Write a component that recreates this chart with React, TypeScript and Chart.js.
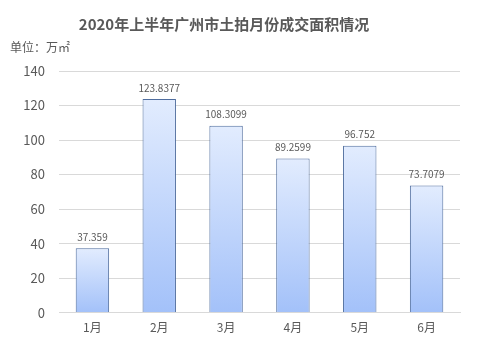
import React, { useEffect, useRef } from "react";
import { Chart, registerables } from "chart.js";

Chart.register(...registerables);

const titleText = "2020年上半年广州市土拍月份成交面积情况";
const unitText = "单位：万㎡";
const categories = ["1月", "2月", "3月", "4月", "5月", "6月"];
const values = [37.359, 123.8377, 108.3099, 89.2599, 96.752, 73.7079];
const valueLabels = ["37.359", "123.8377", "108.3099", "89.2599", "96.752", "73.7079"];

const FONT = "'Noto Sans CJK SC', 'Noto Sans', sans-serif";
const TEXT = "#595959";

const textPlugin = {
  id: "texts",
  afterDraw(chart: any) {
    const ctx = chart.ctx;
    ctx.save();
    ctx.fillStyle = TEXT;
    ctx.font = `bold 15px ${FONT}`;
    ctx.textAlign = "center";
    ctx.textBaseline = "middle";
    ctx.fillText(titleText, 224, 24);
    ctx.font = `12px ${FONT}`;
    ctx.textAlign = "left";
    ctx.fillText(unitText, 10, 47);
    const meta = chart.getDatasetMeta(0);
    ctx.font = `10px ${FONT}`;
    ctx.textAlign = "center";
    ctx.textBaseline = "bottom";
    meta.data.forEach((bar: any, i: number) => {
      ctx.fillText(valueLabels[i], bar.x, bar.y - 6);
    });
    ctx.restore();
  },
};

export default function App() {
  const ref = useRef<HTMLCanvasElement>(null);
  useEffect(() => {
    const chart = new Chart(ref.current!, {
      type: "bar",
      data: {
        labels: categories,
        datasets: [
          {
            data: values,
            backgroundColor: (c: any) => {
              const ch = c.chart;
              const y = ch.scales?.y;
              if (!y || !c.parsed) return "#c3d6fb";
              const top = y.getPixelForValue(c.parsed.y);
              const bottom = y.getPixelForValue(0);
              if (!isFinite(top) || !isFinite(bottom) || top === bottom) return "#c3d6fb";
              const g = ch.ctx.createLinearGradient(0, top, 0, bottom);
              g.addColorStop(0, "#e2ecfe");
              g.addColorStop(1, "#a3c1f9");
              return g;
            },
            borderColor: "#4f6d9e",
            borderWidth: 1,
            categoryPercentage: 1,
            barPercentage: 0.5,
          },
        ],
      },
      options: {
        animation: false,
        responsive: false,
        devicePixelRatio: 1,
        layout: { padding: { top: 71, right: 19, bottom: 11, left: 0 } },
        plugins: { legend: { display: false }, tooltip: { enabled: false } },
        scales: {
          x: {
            grid: { display: false, drawTicks: false },
            border: { color: "#d9d9d9" },
            ticks: { color: TEXT, font: { family: FONT, size: 12 }, padding: 8 },
          },
          y: {
            min: 0,
            max: 140,
            afterFit: (s: any) => { s.width = 59; },
            grid: { color: "#d9d9d9", drawTicks: false },
            border: { display: false },
            ticks: { stepSize: 20, color: TEXT, font: { family: FONT, size: 13 }, padding: 14 },
          },
        },
      },
      plugins: [textPlugin],
    });
    return () => chart.destroy();
  }, []);
  return (
    <div style={{ position: "fixed", left: 0, top: 0, width: 479, height: 354, background: "#fff" }}>
      <canvas ref={ref} width={479} height={354} />
    </div>
  );
}
